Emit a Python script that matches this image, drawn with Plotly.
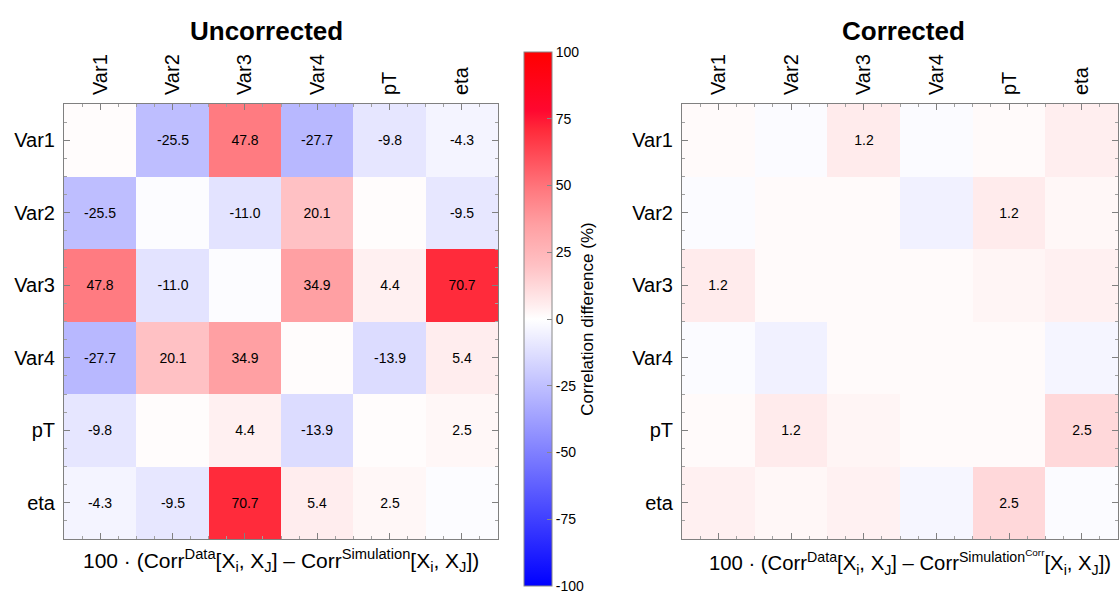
import plotly.graph_objects as go

variables = ["Var1", "Var2", "Var3", "Var4", "pT", "eta"]

# Uncorrected: 100*(Corr_data - Corr_sim), rows = y (top to bottom), cols = x
uncorrected = [
    [1.0, -25.5, 47.8, -27.7, -9.8, -4.3],
    [-25.5, -1.0, -11.0, 20.1, 1.0, -9.5],
    [47.8, -11.0, -1.0, 34.9, 4.4, 70.7],
    [-27.7, 20.1, 34.9, 1.0, -13.9, 5.4],
    [-9.8, 1.0, 4.4, -13.9, 1.0, 2.5],
    [-4.3, -9.5, 70.7, 5.4, 2.5, -1.0],
]

# Corrected: 100*(Corr_data - Corr_simcorr)
corrected = [
    [0.3, -0.3, 1.2, -0.3, 0.3, 1.0],
    [-0.3, 0.3, 0.3, -1.1, 1.2, 0.5],
    [1.2, 0.3, 0.3, 0.3, 0.6, 0.9],
    [-0.3, -1.1, 0.3, 0.3, 0.3, -0.8],
    [0.3, 1.2, 0.6, 0.3, 0.3, 2.5],
    [0.9, 0.5, 0.8, -0.7, 2.5, -0.3],
]

cbar_ticks = [-100, -75, -50, -25, 0, 25, 50, 75, 100]

W, H = 1119, 595
FONT = "Liberation Sans, Arial, Helvetica, sans-serif"

colorscale = [
    [0.0, "rgb(0,0,255)"],
    [0.5, "rgb(255,255,255)"],
    [0.525, "rgb(255,238,239)"],
    [0.60, "rgb(255,193,196)"],
    [0.675, "rgb(255,160,163)"],
    [0.74, "rgb(255,122,128)"],
    [0.855, "rgb(255,42,58)"],
    [0.89, "rgb(255,8,48)"],
    [1.0, "rgb(255,0,0)"],
]


def labels(mat, thr):
    return [["%.1f" % v if abs(v) >= thr else "" for v in row] for row in mat]


idx = list(range(len(variables)))

CB_TOP, CB_BOT = 52, 586

fig = go.Figure()
fig.add_trace(go.Heatmap(
    z=uncorrected, x=idx, y=idx, text=labels(uncorrected, 2.0),
    texttemplate="%{text}", textfont=dict(size=14, color="black", family=FONT),
    colorscale=colorscale, zmin=-100, zmax=100, xaxis="x", yaxis="y",
    hoverinfo="skip",
    colorbar=dict(
        x=524 / W, xanchor="left", xref="paper", xpad=0, ypad=0,
        y=1 - (CB_TOP + CB_BOT) / 2 / H, yanchor="middle",
        len=(CB_BOT - CB_TOP) / H, lenmode="fraction",
        thickness=28, outlinecolor="#888888", outlinewidth=1,
        tickvals=cbar_ticks, ticktext=[str(t) for t in cbar_ticks],
        ticks="inside", ticklen=5, tickcolor="#888888",
        tickfont=dict(size=14, family=FONT, color="black"),
        title=dict(text="Correlation difference (%)", side="right",
                   font=dict(size=17, family=FONT, color="black")),
    ),
))
fig.add_trace(go.Heatmap(
    z=corrected, x=idx, y=idx, text=labels(corrected, 1.15),
    texttemplate="%{text}", textfont=dict(size=14, color="black", family=FONT),
    colorscale=colorscale, zmin=-20, zmax=20, xaxis="x2", yaxis="y2",
    showscale=False, hoverinfo="skip",
))

ax_common = dict(
    tickvals=idx, ticktext=variables, showgrid=False, zeroline=False,
    showline=True, linecolor="#808080", linewidth=1, mirror="allticks",
    ticks="inside", ticklen=6, tickcolor="#808080",
    minor=dict(tick0=-0.5, dtick=0.25, ticks="inside", ticklen=3, tickcolor="#a0a0a0"),
    tickfont=dict(size=20, family=FONT, color="black"),
)


def ann(text, xpx, ypx, size, bold=False):
    return dict(text=("<b>%s</b>" % text) if bold else text,
                x=xpx / W, y=1 - ypx / H, xref="paper", yref="paper",
                xanchor="center", yanchor="middle", showarrow=False,
                font=dict(size=size, family=FONT, color="black"))


ydom = [1 - 539 / H, 1 - 104 / H]
fig.update_layout(
    width=W, height=H, margin=dict(l=0, r=0, t=0, b=0),
    paper_bgcolor="white", plot_bgcolor="white",
    font=dict(family=FONT, color="black"),
    xaxis=dict(domain=[64 / W, 498 / W], range=[-0.5, 5.5], side="top",
               tickangle=-90, anchor="y", ticklabelstandoff=4, **ax_common),
    yaxis=dict(domain=ydom, range=[5.5, -0.5], anchor="x",
               ticklabelstandoff=4, **ax_common),
    xaxis2=dict(domain=[682 / W, 1118 / W], range=[-0.5, 5.5], side="top",
                tickangle=-90, anchor="y2", ticklabelstandoff=4, **ax_common),
    yaxis2=dict(domain=ydom, range=[5.5, -0.5], anchor="x2",
                ticklabelstandoff=4, **ax_common),
    annotations=[
        ann("Uncorrected", 266, 31, 26, bold=True),
        ann("Corrected", 903, 31, 26, bold=True),
        ann("100 · (Corr<sup>Data</sup>[X<sub>i</sub>, X<sub>J</sub>] – Corr<sup>Simulation</sup>[X<sub>i</sub>, X<sub>J</sub>])",
            281, 560, 21),
        ann("100 · (Corr<sup>Data</sup>[X<sub>i</sub>, X<sub>J</sub>] – Corr<sup>Simulation<sup>Corr</sup></sup>[X<sub>i</sub>, X<sub>J</sub>])",
            910, 562, 20.3),
    ],
)

fig.write_html("out.html")
